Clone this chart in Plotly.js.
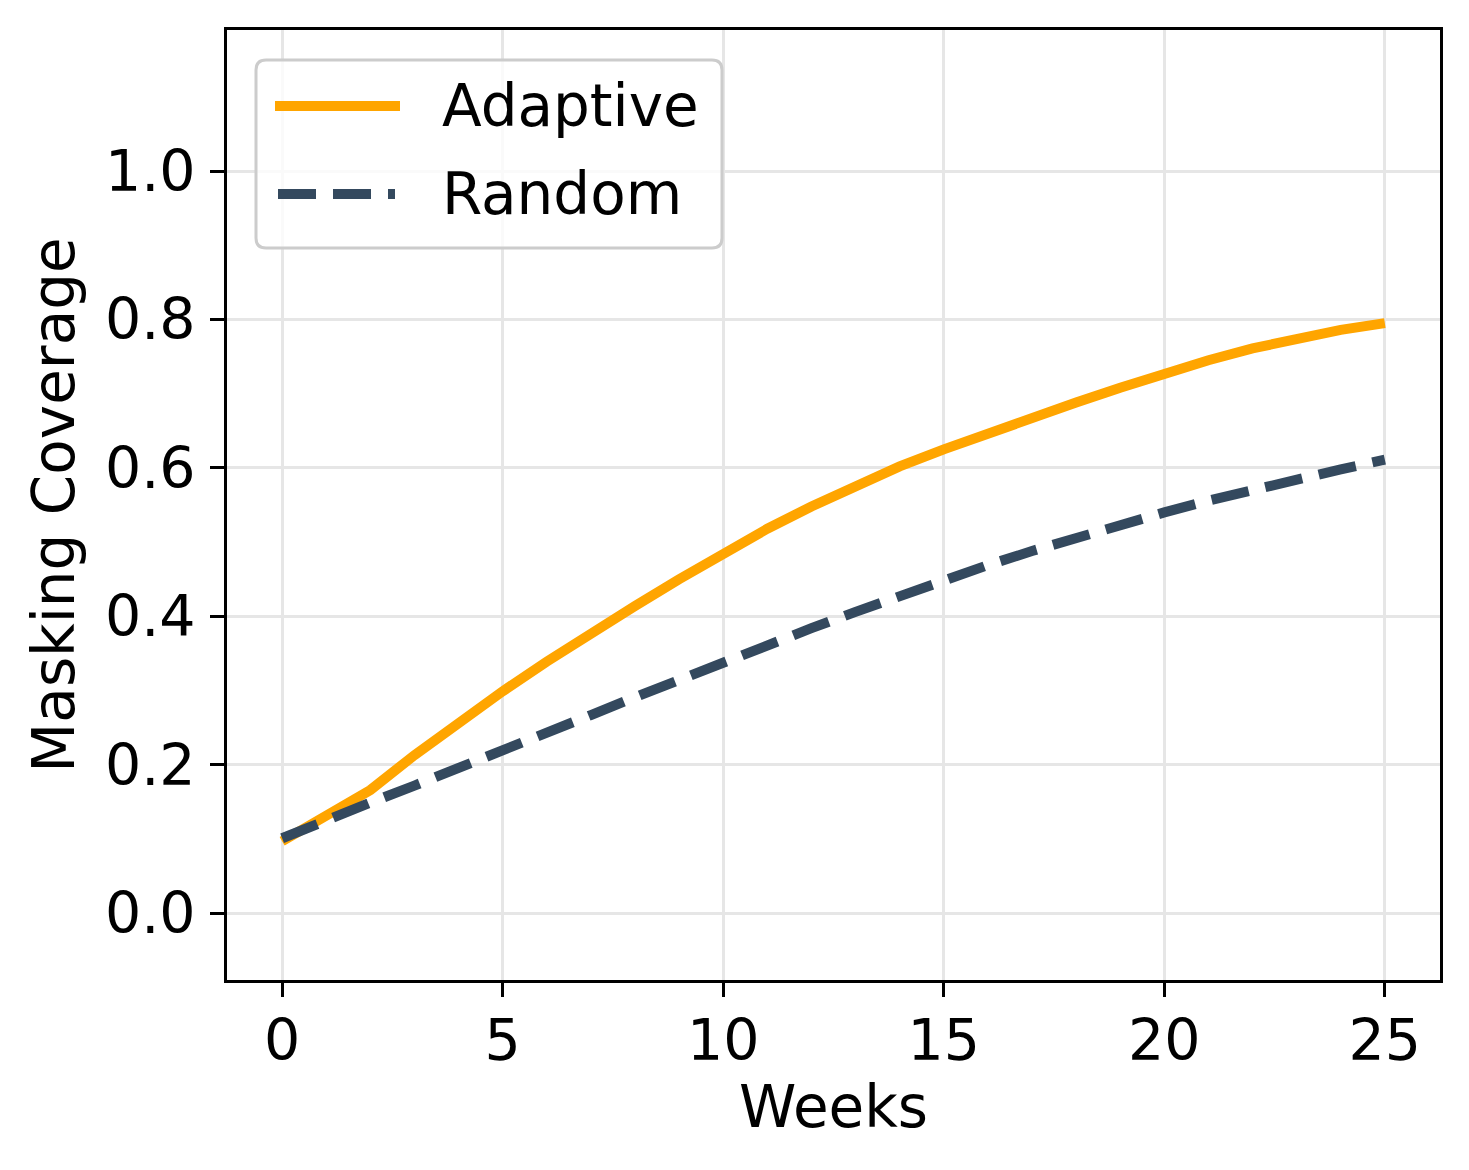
<!DOCTYPE html>
<html>
<head>
<meta charset="utf-8">
<script src="https://cdn.plot.ly/plotly-3.0.1.min.js"></script>
<style>html,body{margin:0;padding:0;background:#fff;}</style>
</head>
<body>
<div id="chart" style="width:1469px;height:1170px;"></div>
<script>
const weeks = [0,1,2,3,4,5,6,7,8,9,10,11,12,13,14,15,16,17,18,19,20,21,22,23,24,25];
const adaptive = [0.097,0.130,0.166,0.213,0.257,0.299,0.339,0.378,0.414,0.450,0.485,0.518,0.548,0.576,0.602,0.625,0.647,0.668,0.688,0.708,0.727,0.745,0.761,0.775,0.786,0.795];
const random = [0.101,0.126,0.149,0.172,0.195,0.218,0.243,0.267,0.291,0.315,0.339,0.362,0.384,0.406,0.428,0.449,0.469,0.488,0.506,0.523,0.540,0.556,0.571,0.585,0.598,0.611];
const seriesNames = ["Adaptive", "Random"];
const xTicks = [0,5,10,15,20,25];
const yTicks = [0.0,0.2,0.4,0.6,0.8,1.0];
const yTickText = ["0.0","0.2","0.4","0.6","0.8","1.0"];

const C_ADAPT = "#FFA500";
const C_RAND = "#34495E";
const FONT = "DejaVu Sans, sans-serif";

// plot area geometry (pixels)
const W = 1469, H = 1170;
const L = 227, R = 1440, T = 30, B = 980;
const px = x => (x - L) / (R - L);
const py = y => (B - y) / (B - T);

const traces = [
  {x: weeks, y: adaptive, name: seriesNames[0], mode: "lines",
   line: {color: C_ADAPT, width: 10}, showlegend: false},
  {x: weeks, y: random, name: seriesNames[1], mode: "lines",
   line: {color: C_RAND, width: 10, dash: "38px,17px"}, showlegend: false}
];

// custom legend box with rounded corners
function roundedRect(x0, y0, x1, y1, r) {
  const X0 = px(x0), X1 = px(x1), Y0 = py(y0), Y1 = py(y1);
  const rx = r / (R - L), ry = r / (B - T);
  return `M ${X0+rx},${Y0} L ${X1-rx},${Y0} Q ${X1},${Y0} ${X1},${Y0-ry} ` +
         `L ${X1},${Y1+ry} Q ${X1},${Y1} ${X1-rx},${Y1} L ${X0+rx},${Y1} ` +
         `Q ${X0},${Y1} ${X0},${Y1+ry} L ${X0},${Y0-ry} Q ${X0},${Y0} ${X0+rx},${Y0} Z`;
}

const shapes = [
  {type: "path", xref: "paper", yref: "paper", path: roundedRect(256, 60, 722, 248, 10),
   fillcolor: "rgba(255,255,255,0.8)", line: {color: "#cccccc", width: 3}, layer: "above"},
  {type: "line", xref: "paper", yref: "paper", x0: px(275), x1: px(400), y0: py(106), y1: py(106),
   line: {color: C_ADAPT, width: 10}, layer: "above"},
  {type: "line", xref: "paper", yref: "paper", x0: px(278), x1: px(395), y0: py(194), y1: py(194),
   line: {color: C_RAND, width: 10, dash: "38px,17px"}, layer: "above"}
];

const annotations = [
  {xref: "paper", yref: "paper", x: px(440), y: py(106), xanchor: "left", yanchor: "middle",
   text: seriesNames[0], showarrow: false, font: {family: FONT, size: 58, color: "#000"}},
  {xref: "paper", yref: "paper", x: px(440), y: py(194), xanchor: "left", yanchor: "middle",
   text: seriesNames[1], showarrow: false, font: {family: FONT, size: 58, color: "#000"}}
];

const layout = {
  width: W, height: H,
  margin: {l: L, r: W - R, t: T, b: H - B, pad: 0},
  paper_bgcolor: "#fff", plot_bgcolor: "#fff",
  font: {family: FONT, color: "#000"},
  xaxis: {
    range: [-1.25, 26.25], tickvals: xTicks, ticktext: xTicks.map(String),
    showgrid: true, gridcolor: "#e6e6e6", gridwidth: 3, zeroline: false,
    showline: true, mirror: true, linecolor: "#000", linewidth: 3,
    ticks: "outside", ticklen: 14, tickwidth: 3, tickcolor: "#000",
    tickfont: {family: FONT, size: 57, color: "#000"},
    ticklabelstandoff: -5,
    title: {text: "Weeks", font: {family: FONT, size: 58, color: "#000"}, standoff: 12},
    automargin: false
  },
  yaxis: {
    range: [-0.09, 1.19], tickvals: yTicks, ticktext: yTickText,
    showgrid: true, gridcolor: "#e6e6e6", gridwidth: 3, zeroline: false,
    showline: true, mirror: true, linecolor: "#000", linewidth: 3,
    ticks: "outside", ticklen: 14, tickwidth: 3, tickcolor: "#000",
    tickfont: {family: FONT, size: 57, color: "#000"},
    ticklabelstandoff: 3,
    title: {text: "Masking Coverage", font: {family: FONT, size: 58, color: "#000"}, standoff: 12},
    automargin: false
  },
  shapes: shapes,
  annotations: annotations
};

Plotly.newPlot("chart", traces, layout, {displayModeBar: false, staticPlot: true});
</script>
</body>
</html>
